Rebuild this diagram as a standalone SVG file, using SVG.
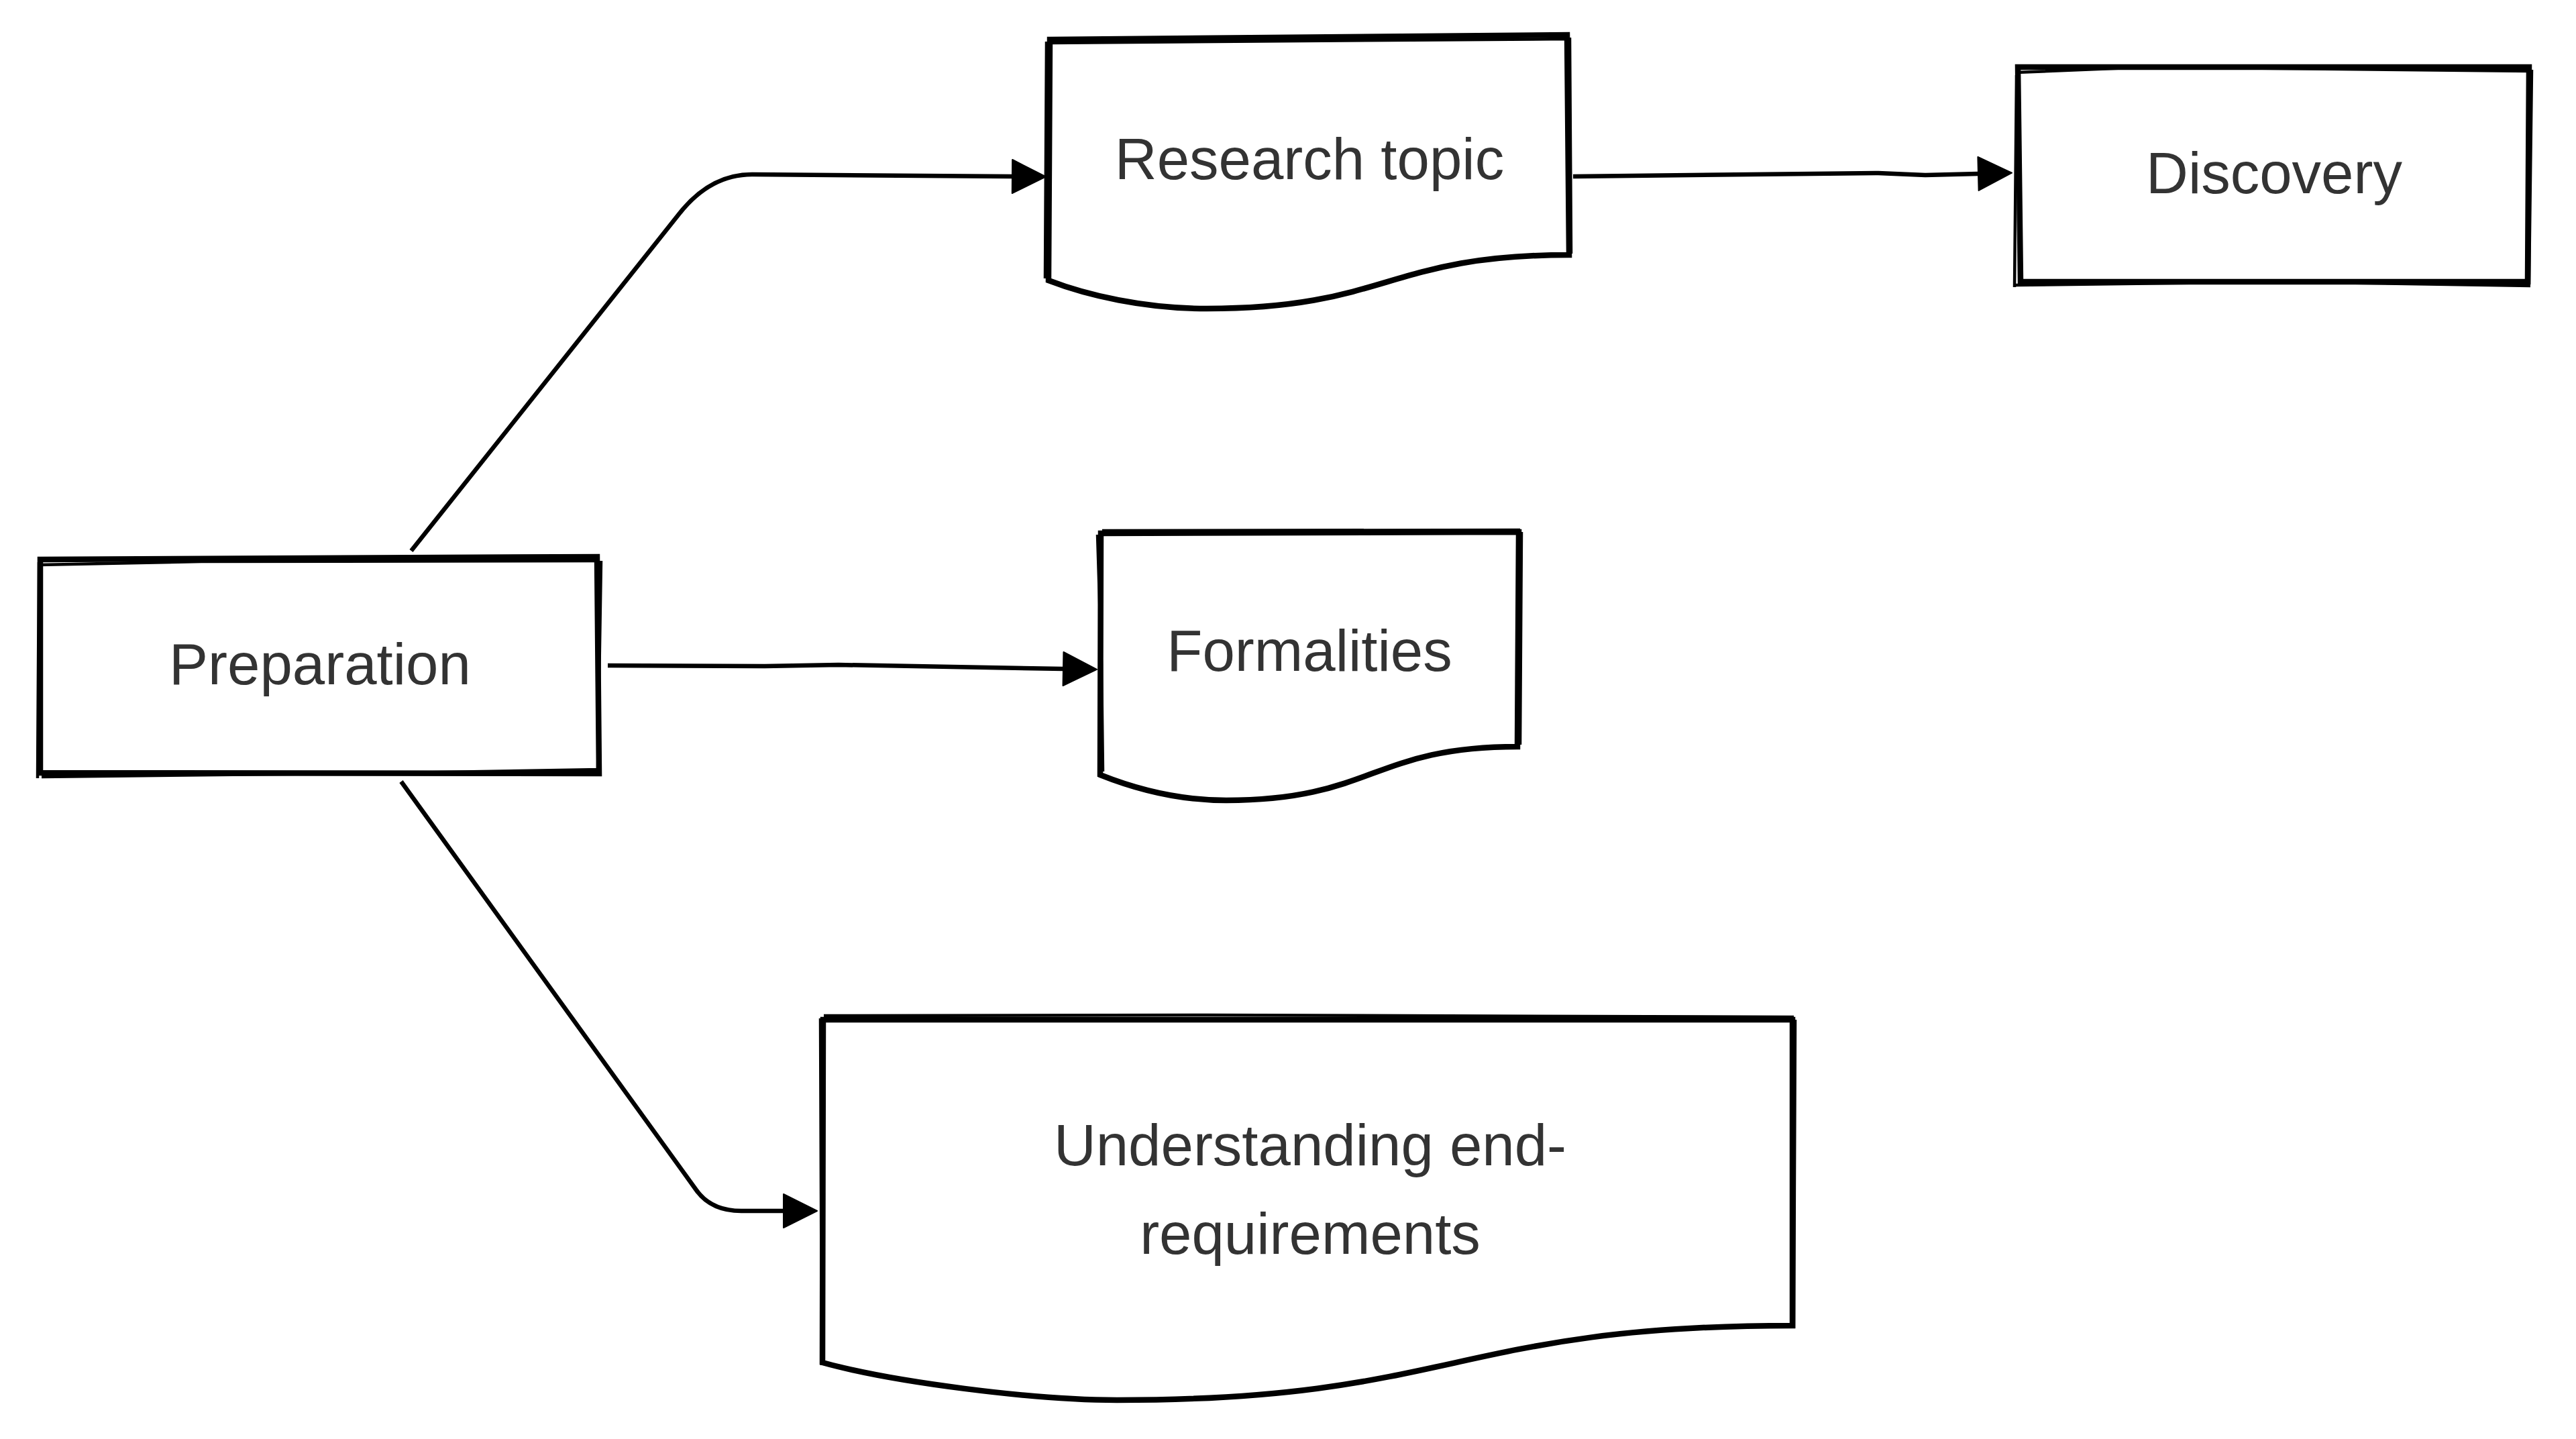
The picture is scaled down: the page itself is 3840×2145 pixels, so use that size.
<svg xmlns="http://www.w3.org/2000/svg" width="3840" height="2145" viewBox="0 0 3840 2145">
  <style>
    .box { fill: #ffffff; stroke: #000000; stroke-width: 8.5; stroke-linejoin: miter; }
    .sk { fill: none; stroke: #000000; stroke-width: 4.5; stroke-linecap: butt; }
    .lbl { font-family: "Liberation Sans", Arial, Helvetica, sans-serif; font-size: 87px; fill: #333333; text-anchor: middle; }
    .edge { fill: none; stroke: #000000; stroke-width: 6.5; stroke-linecap: butt; stroke-linejoin: round; }
  </style>
  <defs>
    <marker id="arrow" markerUnits="userSpaceOnUse" markerWidth="52" markerHeight="52" refX="0" refY="25" orient="auto" viewBox="0 0 52 52" overflow="visible">
      <path d="M0,0 L50,25 L0,50 Z" fill="#000000" stroke="#000000" stroke-width="2" stroke-linejoin="round"/>
    </marker>
  </defs>
  <rect width="3840" height="2145" fill="#ffffff"/>

  <g id="connectors">
    <path id="e-prep-research" class="edge" marker-end="url(#arrow)" d="M 613 821 L 1013 318 Q 1059 260 1121 260 L 1509 263"/>
    <path id="e-prep-formalities" class="edge" marker-end="url(#arrow)" d="M 906 992 L 1140 993 L 1250 991 L 1585 997"/>
    <path id="e-prep-understanding" class="edge" marker-end="url(#arrow)" d="M 598 1165 L 1038 1774 Q 1060 1805 1105 1805 L 1168 1805"/>
    <path id="e-research-discovery" class="edge" marker-end="url(#arrow)" d="M 2345 263 L 2800 258 L 2870 261 L 2949 259"/>
  </g>

  <g id="node-preparation">
    <path class="box" d="M 60 834 L 890 830 L 893 1153 L 60 1152 Z"/>
    <path class="sk" d="M 58 842 L 300 837 L 893 836 M 896 836 L 891 1150 M 893 1147 L 600 1152 L 62 1158 M 56 1160 L 58 838"/>
    <text class="lbl" x="477" y="1020">Preparation</text>
  </g>

  <g id="node-research-topic">
    <path class="box" d="M 1565 59 L 2336 52 L 2339 380 C 2068 380 2068 460 1799 460 C 1705 460 1620 440 1563 418 Z"/>
    <path class="sk" d="M 1563 64 L 2338 58 M 2340 56 L 2342 378 M 1560 62 L 1558 415"/>
    <text class="lbl" x="1952" y="267">Research topic</text>
  </g>

  <g id="node-discovery">
    <path class="box" d="M 3008 100 L 3770 100 L 3768 420 L 3012 420 Z"/>
    <path class="sk" d="M 3006 108 L 3200 100 L 3772 106 M 3774 104 L 3770 424 M 3772 426 L 3400 420 L 3005 425 M 3003 428 L 3006 112"/>
    <text class="lbl" x="3390" y="288">Discovery</text>
  </g>

  <g id="node-formalities">
    <path class="box" d="M 1641 795 L 2264 793 L 2262 1113 C 2046 1113 2046 1193 1828 1193 C 1753 1193 1690 1175 1640 1155 Z"/>
    <path class="sk" d="M 1643 791 L 2266 790 M 2268 793 L 2266 1110 M 1636 797 L 1642 990 L 1644 1150"/>
    <text class="lbl" x="1952" y="1000">Formalities</text>
  </g>

  <g id="node-understanding">
    <path class="box" d="M 1227 1520 L 2672 1520 L 2672 1976 C 2168 1976 2168 2087 1665 2087 C 1540 2087 1330 2060 1226 2031 Z"/>
    <path class="sk" d="M 1228 1514 L 1800 1513 L 2674 1516 M 2676 1520 L 2674 1980 M 1223 1518 L 1225 2035"/>
    <text class="lbl" x="1953" y="1737">Understanding end-</text>
    <text class="lbl" x="1953" y="1869">requirements</text>
  </g>
</svg>
